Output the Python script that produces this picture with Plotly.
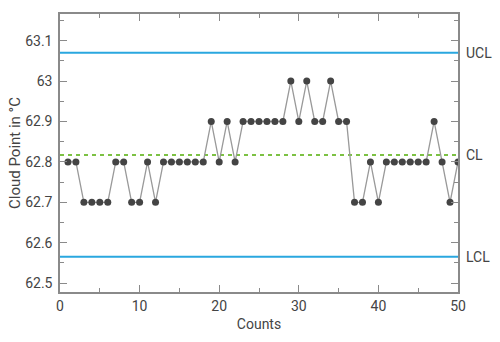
import plotly.graph_objects as go

counts = list(range(1, 51))
cloud_point = [62.8, 62.8, 62.7, 62.7, 62.7, 62.7, 62.8, 62.8, 62.7, 62.7,
               62.8, 62.7, 62.8, 62.8, 62.8, 62.8, 62.8, 62.8, 62.9, 62.8,
               62.9, 62.8, 62.9, 62.9, 62.9, 62.9, 62.9, 62.9, 63.0, 62.9,
               63.0, 62.9, 62.9, 63.0, 62.9, 62.9, 62.7, 62.7, 62.8, 62.7,
               62.8, 62.8, 62.8, 62.8, 62.8, 62.8, 62.9, 62.8, 62.7, 62.8]
ucl = 63.07
cl = 62.817
lcl = 62.565
limit_names = ["UCL", "CL", "LCL"]
limit_values = [ucl, cl, lcl]
limit_colors = ["#2aa7df", "#7cc143", "#2aa7df"]
limit_dash = ["solid", "4px,4px", "solid"]
x_ticks = [0, 10, 20, 30, 40, 50]
y_ticks = [62.5, 62.6, 62.7, 62.8, 62.9, 63.0, 63.1]
y_tick_labels = ["62.5", "62.6", "62.7", "62.8", "62.9", "63", "63.1"]

fig = go.Figure()

for name, val, col, dash in zip(limit_names, limit_values, limit_colors, limit_dash):
    fig.add_trace(go.Scatter(x=[0, 50], y=[val, val], mode="lines",
                             line=dict(color=col, width=2, dash=dash),
                             showlegend=False, hoverinfo="skip"))
    fig.add_annotation(x=1, xref="paper", y=val, yref="y", text=name,
                       showarrow=False, xanchor="left", xshift=6,
                       font=dict(size=14, color="#444"))

fig.add_trace(go.Scatter(x=counts, y=cloud_point, mode="lines+markers",
                         line=dict(color="#999999", width=1.3),
                         marker=dict(color="#444444", size=7),
                         showlegend=False))

axis_common = dict(showline=True, linecolor="#8a8a8a", linewidth=1.5,
                   mirror="ticks", ticks="inside", ticklen=7, tickwidth=1,
                   tickcolor="#8a8a8a", showgrid=False, zeroline=False,
                   tickfont=dict(size=14, color="#444"))

fig.update_xaxes(range=[0, 50], tickvals=x_ticks, ticklabelstandoff=0,
                 minor=dict(dtick=5, ticks="inside", ticklen=4, tickcolor="#8a8a8a"),
                 title=dict(text="Counts", font=dict(size=14, color="#444"), standoff=7),
                 **axis_common)
fig.update_yaxes(range=[62.478, 63.166], tickvals=y_ticks, ticktext=y_tick_labels,
                 ticklabelstandoff=3,
                 minor=dict(dtick=0.05, tick0=62.5, ticks="inside", ticklen=4, tickcolor="#8a8a8a"),
                 title=dict(text="Cloud Point in °C", font=dict(size=15, color="#444"), standoff=1),
                 **axis_common)

fig.update_layout(width=500, height=342,
                  margin=dict(l=60, r=42, t=13, b=49),
                  plot_bgcolor="white", paper_bgcolor="white",
                  font=dict(family="Roboto", size=14, color="#444"))

fig.write_html("out.html")
